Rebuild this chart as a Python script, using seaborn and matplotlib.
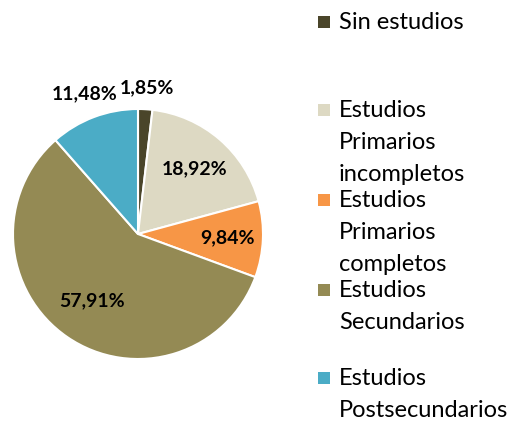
import matplotlib
matplotlib.use("Agg")
import matplotlib.pyplot as plt
import matplotlib.patches as mpatches
import numpy as np
import seaborn as sns

categories = ["Sin estudios", "Estudios Primarios incompletos", "Estudios Primarios completos",
              "Estudios Secundarios", "Estudios Postsecundarios"]
legend_labels = ["Sin estudios", "Estudios\nPrimarios\nincompletos", "Estudios\nPrimarios\ncompletos",
                 "Estudios\nSecundarios", "Estudios\nPostsecundarios"]
values = [1.85, 18.92, 9.84, 57.91, 11.48]
pct_labels = ["1,85%", "18,92%", "9,84%", "57,91%", "11,48%"]
colors = ["#4a452a", "#ddd9c3", "#f79646", "#948a54", "#4bacc6"]

sns.set_theme(style="white")
plt.rcParams["font.family"] = ["Lato", "DejaVu Sans"]

W, H = 516, 421
fig = plt.figure(figsize=(W / 100, H / 100), dpi=100)
cx, cy, R = 138, 234, 125
ax = fig.add_axes([(cx - R) / W, (H - cy - R) / H, 2 * R / W, 2 * R / H])
wedges, _ = ax.pie(values, colors=colors, startangle=90, counterclock=False, radius=1,
                   wedgeprops=dict(edgecolor="white", linewidth=1.5))
ax.set_xlim(-1, 1)
ax.set_ylim(-1, 1)
ax.set_aspect("equal")
ax.axis("off")

# label distance per slice (small slices labelled outside)
label_r = [1.17, 0.69, 0.72, 0.65, 1.2]
for w, txt, r in zip(wedges, pct_labels, label_r):
    ang = np.deg2rad((w.theta1 + w.theta2) / 2)
    ax.text(r * np.cos(ang), r * np.sin(ang), txt, ha="center", va="center",
            fontsize=14, fontweight="bold", color="black")

# legend, drawn by hand to keep Excel-like wrapping
entry_y = [22, 110, 200, 290, 378]
for lab, col, y in zip(legend_labels, colors, entry_y):
    fig.add_artist(mpatches.Rectangle((318 / W, 1 - (y + 6) / H), 12 / W, 12 / H,
                                      transform=fig.transFigure, color=col, lw=0))
    for k, line in enumerate(lab.split("\n")):
        fig.text(339 / W, 1 - (y + 7 + 32 * k) / H, line, ha="left", va="baseline",
                 fontsize=17, color="black")

fig.savefig("out.png", dpi=100)
